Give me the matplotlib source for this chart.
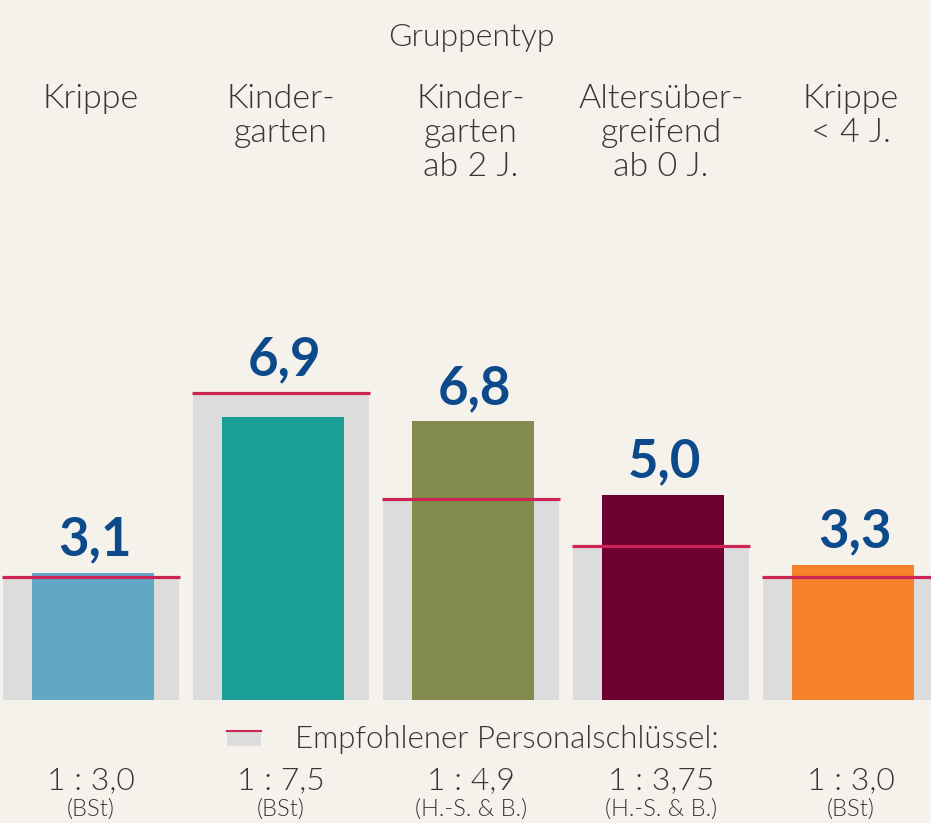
import matplotlib.pyplot as plt
from matplotlib.patches import Rectangle
from matplotlib.lines import Line2D
from matplotlib.legend_handler import HandlerBase
import numpy as np

# ── data ─────────────────────────────────────────────
categories = ["Krippe", "Kinder-\ngarten", "Kinder-\ngarten\nab 2 J.",
              "Altersüber-\ngreifend\nab 0 J.", "Krippe\n< 4 J."]
actual = [3.1, 6.9, 6.8, 5.0, 3.3]
recommended = [3.0, 7.5, 4.9, 3.75, 3.0]
ratio_labels = ["1 : 3,0", "1 : 7,5", "1 : 4,9", "1 : 3,75", "1 : 3,0"]
sources = ["(BSt)", "(BSt)", "(H.-S. & B.)", "(H.-S. & B.)", "(BSt)"]

BG = "#f5f2eb"
GREY = "#dcdcdd"
RED = "#cc2455"
NAVY = "#0d4a8b"
TXT = "#363636"
bar_colors = ["#63a7c6", "#1a9e96", "#838c4c", "#6d0030", "#f5822a"]
LIGHT = 300

plt.rcParams["font.family"] = ["Lato", "DejaVu Sans"]

W, H = 931, 823
fig = plt.figure(figsize=(W / 100, H / 100), dpi=100, facecolor=BG)

# axes spans full width; baseline at 700 px from top, 41 px per unit
base = 700
ax = fig.add_axes([0, (H - base) / H, 1, base / H])
ax.set_facecolor(BG)
x = np.arange(len(categories))
ax.set_xlim(-91 / 190, (W - 91) / 190)
ax.set_ylim(0, base / 41)
ax.axis("off")

ax.bar(x, recommended, width=0.926, color=GREY, zorder=1)
ax.bar(x + 0.012, actual, width=0.642, color=bar_colors, zorder=2)
ax.hlines(recommended, x - 0.47, x + 0.47, color=RED, lw=2.3, zorder=3)

for xi, a, r in zip(x, actual, recommended):
    ax.annotate(f"{a:.1f}".replace(".", ","), xy=(xi + 0.02, max(a, r)),
                xytext=(0, 6), textcoords="offset points",
                ha="center", va="bottom", fontsize=38, fontweight="bold",
                color=NAVY)

# ── header texts ─────────────────────────────────────
fig.text(471 / W, 1 - 37 / H, "Gruppentyp", ha="center", va="center",
         fontsize=23, fontweight=LIGHT, color=TXT)
for xi, cat in zip(x, categories):
    ax.annotate(cat, xy=(xi, 0), xycoords=("data", "figure fraction"),
                xytext=(xi, 1 - 84 / H), textcoords=("data", "figure fraction"),
                ha="center", va="top", fontsize=24.5, fontweight=LIGHT,
                color=TXT, linespacing=1.17)

# ── bottom: recommended ratios ───────────────────────
for xi, lab, src in zip(x, ratio_labels, sources):
    ax.annotate(lab, xy=(xi, 0), xycoords=("data", "figure fraction"),
                xytext=(xi, 42 / H), textcoords=("data", "figure fraction"),
                ha="center", va="center", fontsize=23, fontweight=LIGHT,
                color=TXT)
    ax.annotate(src, xy=(xi, 0), xycoords=("data", "figure fraction"),
                xytext=(xi, 14 / H), textcoords=("data", "figure fraction"),
                ha="center", va="center", fontsize=17, fontweight=LIGHT,
                color=TXT)


class GreyRedHandler(HandlerBase):
    def create_artists(self, legend, orig, xd, yd, width, height, fontsize, trans):
        rect = Rectangle((-xd, -yd), width, height * 0.8, facecolor=GREY,
                         edgecolor="none", transform=trans)
        line = Line2D([-xd, -xd + width], [height * 0.85 - yd] * 2, color=RED,
                      lw=1.5, transform=trans)
        return [rect, line]


key = Rectangle((0, 0), 1, 1)
fig.legend([key], ["Empfohlener Personalschlüssel:"],
           handler_map={Rectangle: GreyRedHandler()},
           loc="center", bbox_to_anchor=(473 / W, 1 - 740 / H),
           frameon=False, handlelength=1.1, handleheight=0.45, handletextpad=1.1,
           prop={"size": 22.5, "weight": LIGHT}, labelcolor=TXT)

fig.savefig("out.png", dpi=100, facecolor=BG)
